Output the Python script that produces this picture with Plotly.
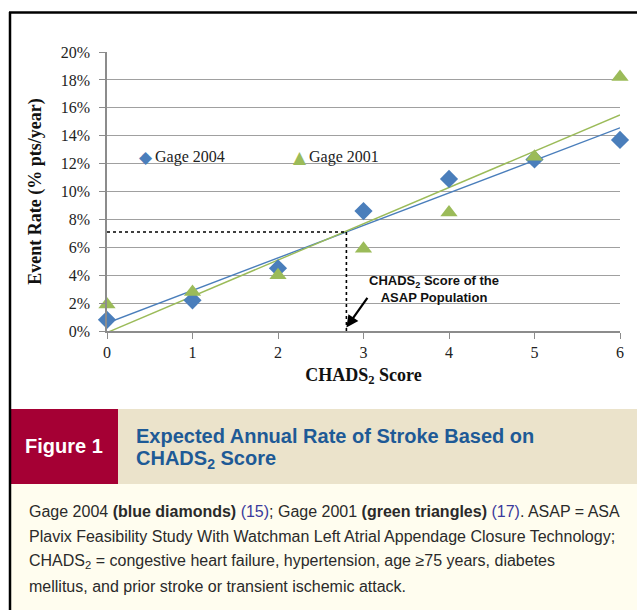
import numpy as np
import plotly.graph_objects as go

W, H = 637, 610

# ---- data ----
chads_scores = [0, 1, 2, 3, 4, 5, 6]
gage_2004 = [0.8, 2.2, 4.5, 8.6, 10.9, 12.3, 13.7]
gage_2001 = [1.9, 2.8, 4.0, 5.9, 8.5, 12.5, 18.2]
series_names = ["Gage 2004", "Gage 2001"]
y_tick_vals = [0, 2, 4, 6, 8, 10, 12, 14, 16, 18, 20]
y_tick_text = ["0%", "2%", "4%", "6%", "8%", "10%", "12%", "14%", "16%", "18%", "20%"]
asap_score = 2.8
asap_rate = 7.1

BLUE = "#4a7ebb"
GREEN = "#9bbb59"
SERIF = "Liberation Serif, Times New Roman, serif"
NARROW = "Liberation Sans Narrow, Arial Narrow, Liberation Sans, sans-serif"


def px(x):
    return x / W


def py(y):
    return 1 - y / H


# linear trendlines (least squares, as in the original spreadsheet)
b04 = np.polyfit(chads_scores, gage_2004, 1)
b01 = np.polyfit(chads_scores, gage_2001, 1)
xs = [chads_scores[0], chads_scores[-1]]

fig = go.Figure()
fig.add_trace(go.Scatter(x=xs, y=np.polyval(b04, xs), mode="lines",
                         line=dict(color=BLUE, width=1.4), showlegend=False, hoverinfo="skip"))
fig.add_trace(go.Scatter(x=xs, y=np.polyval(b01, xs), mode="lines",
                         line=dict(color=GREEN, width=1.4), showlegend=False, hoverinfo="skip"))
fig.add_trace(go.Scatter(x=chads_scores, y=gage_2004, mode="markers", name=series_names[0],
                         marker=dict(symbol="diamond", size=14, color=BLUE), cliponaxis=False,
                         showlegend=False))
fig.add_trace(go.Scatter(x=chads_scores, y=gage_2001, mode="markers", name=series_names[1],
                         marker=dict(symbol="triangle-up", size=15, color=GREEN), cliponaxis=False,
                         showlegend=False))

shapes = [
    # dotted guide lines
    dict(type="line", xref="x", yref="y", x0=0, x1=asap_score, y0=asap_rate, y1=asap_rate,
         line=dict(color="black", width=1.6, dash="dot")),
    dict(type="line", xref="x", yref="y", x0=asap_score, x1=asap_score, y0=0, y1=asap_rate,
         line=dict(color="black", width=1.6, dash="dot")),
    # panel backgrounds
    dict(type="rect", xref="paper", yref="paper", x0=px(10), x1=px(118), y0=py(484), y1=py(409),
         fillcolor="#a50034", line=dict(width=0), layer="below"),
    dict(type="rect", xref="paper", yref="paper", x0=px(118), x1=1, y0=py(484), y1=py(409),
         fillcolor="#ebe3cb", line=dict(width=0), layer="below"),
    dict(type="rect", xref="paper", yref="paper", x0=px(10), x1=1, y0=0, y1=py(484),
         fillcolor="#fffdef", line=dict(width=0), layer="below"),
    # outer border
    dict(type="line", xref="paper", yref="paper", x0=px(10), x1=px(10), y0=0, y1=py(12),
         line=dict(color="black", width=2.5)),
    dict(type="line", xref="paper", yref="paper", x0=px(9), x1=1, y0=py(12.5), y1=py(12.5),
         line=dict(color="black", width=2.5)),
]

ann = []
# legend (drawn as text, Excel-style tight spacing)
for glyph, color, gx, tx, name, gsize in [("◆", BLUE, 146, 153, series_names[0], 17),
                                         ("▲", GREEN, 300, 307, series_names[1], 17)]:
    ann.append(dict(x=px(gx), y=py(157), xref="paper", yref="paper", text=glyph, showarrow=False,
                    font=dict(family="DejaVu Sans, sans-serif", size=gsize, color=color),
                    xanchor="center", yanchor="middle"))
    ann.append(dict(x=px(tx), y=py(157), xref="paper", yref="paper", text=name, showarrow=False,
                    font=dict(family=SERIF, size=16, color="#222"),
                    xanchor="left", yanchor="middle"))
# arrow
ann.append(dict(x=asap_score, y=0.25, xref="x", yref="y", text=" ", showarrow=True,
                ax=24, ay=-34, arrowhead=2, arrowsize=1.1, arrowwidth=2.2, arrowcolor="black"))
ann.append(dict(x=px(434), y=py(289), xref="paper", yref="paper",
                text="<b>CHADS<sub>2</sub> Score of the<br>ASAP Population</b>",
                showarrow=False, font=dict(family="Liberation Sans, Arial, sans-serif", size=13, color="#111"),
                align="center", xanchor="center", yanchor="middle"))
# banner
ann.append(dict(x=px(64), y=py(446), xref="paper", yref="paper", text="<b>Figure 1</b>",
                showarrow=False, font=dict(family=NARROW, size=20, color="white"),
                xanchor="center", yanchor="middle"))
ann.append(dict(x=px(134), y=py(436), xref="paper", yref="paper",
                text="<b>Expected Annual Rate of Stroke Based on</b>",
                showarrow=False, font=dict(family=NARROW, size=20, color="#1e5a96"),
                xanchor="left", yanchor="middle"))
ann.append(dict(x=px(134), y=py(460), xref="paper", yref="paper",
                text="<b>CHADS<sub>2</sub> Score</b>",
                showarrow=False, font=dict(family=NARROW, size=20, color="#1e5a96"),
                xanchor="left", yanchor="middle"))
REF = "#3a3a9c"
cap_lines = [
    f"Gage 2004 <b>(blue diamonds)</b> <span style='color:{REF}'>(15)</span>; Gage 2001 "
    f"<b>(green triangles)</b> <span style='color:{REF}'>(17)</span>. ASAP = ASA",
    "Plavix Feasibility Study With Watchman Left Atrial Appendage Closure Technology;",
    "CHADS<sub>2</sub> = congestive heart failure, hypertension, age ≥75 years, diabetes",
    "mellitus, and prior stroke or transient ischemic attack.",
]
for i, t in enumerate(cap_lines):
    ann.append(dict(x=px(27), y=py(511 + 25 * i), xref="paper", yref="paper", text=t,
                    showarrow=False, font=dict(family=NARROW, size=16, color="#2a2a2a"),
                    xanchor="left", yanchor="middle"))

fig.update_layout(
    width=W, height=H,
    margin=dict(l=0, r=0, t=0, b=0),
    paper_bgcolor="white", plot_bgcolor="white",
    shapes=shapes, annotations=ann,
    showlegend=False,
    xaxis=dict(domain=[px(107), px(620)], range=[0, 6], tickvals=chads_scores,
               ticks="outside", ticklen=6, tickcolor="#8c8c8c", tickwidth=1.2,
               showline=True, linecolor="#8c8c8c", linewidth=1.5, showgrid=False, zeroline=False,
               tickfont=dict(family=SERIF, size=16, color="#222"),
               title=dict(text="<b>CHADS<sub>2</sub> Score</b>", font=dict(family=SERIF, size=18, color="#111"),
                          standoff=8),
               automargin=False, fixedrange=True),
    yaxis=dict(domain=[py(331), py(52)], range=[0, 20], tickvals=y_tick_vals, ticktext=y_tick_text,
               ticks="outside", ticklen=6, tickcolor="#8c8c8c", tickwidth=1.2,
               showline=True, linecolor="#8c8c8c", linewidth=1.5,
               showgrid=True, gridcolor="#a0a0a0", gridwidth=1.3, zeroline=False,
               tickfont=dict(family=SERIF, size=16, color="#222"), ticklabelstandoff=6,
               title=dict(text="<b>Event Rate (% pts/year)</b>", font=dict(family=SERIF, size=18, color="#111"),
                          standoff=14),
               automargin=False, fixedrange=True),
)

fig.write_html("out.html", config={"displayModeBar": False},
               post_script="document.body.style.margin='0';")
